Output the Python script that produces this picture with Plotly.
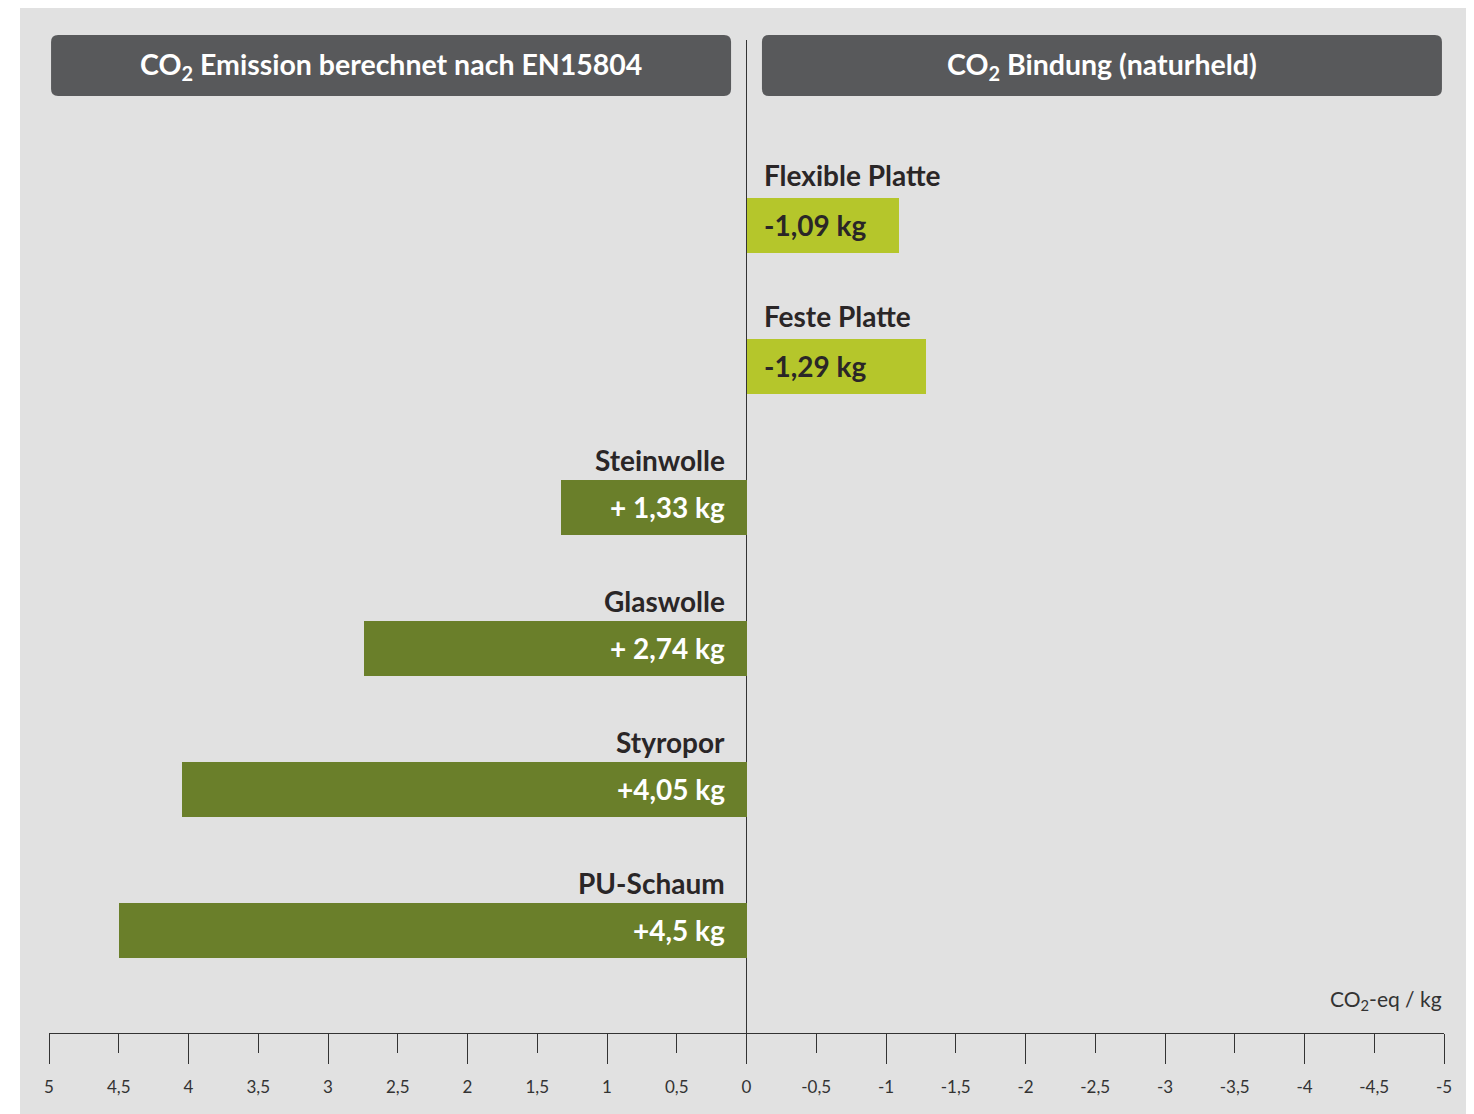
import plotly.graph_objects as go

categories = ["Flexible Platte", "Feste Platte", "Steinwolle", "Glaswolle", "Styropor", "PU-Schaum"]
values = [-1.09, -1.29, 1.33, 2.74, 4.05, 4.5]
value_labels = ["-1,09 kg", "-1,29 kg", "+ 1,33 kg", "+ 2,74 kg", "+4,05 kg", "+4,5 kg"]
tick_values = [5, 4.5, 4, 3.5, 3, 2.5, 2, 1.5, 1, 0.5, 0, -0.5, -1, -1.5, -2, -2.5, -3, -3.5, -4, -4.5, -5]
tick_labels = ["5", "4,5", "4", "3,5", "3", "2,5", "2", "1,5", "1", "0,5", "0",
               "-0,5", "-1", "-1,5", "-2", "-2,5", "-3", "-3,5", "-4", "-4,5", "-5"]
major_ticks = [5, 4, 3, 2, 1, 0, -1, -2, -3, -4, -5]
headers = ["CO<sub>2</sub> Emission berechnet nach EN15804", "CO<sub>2</sub> Bindung (naturheld)"]
unit_label = "CO<sub>2</sub>-eq / kg"

DARK = "#6a7f2a"
LIME = "#b5c62b"
TXT = "#2a2627"
FONT = "Lato"

colors = [LIME if v < 0 else DARK for v in values]

fig = go.Figure()
fig.add_trace(go.Bar(
    x=values, y=categories, orientation="h", width=0.39,
    marker=dict(color=colors, line=dict(width=0)),
    hoverinfo="skip", showlegend=False, xaxis="x", yaxis="y",
))
# invisible trace for overlay axis with long integer ticks
fig.add_trace(go.Scatter(x=[5, -5], y=[categories[0], categories[0]], mode="markers",
                         marker=dict(opacity=0), xaxis="x2", yaxis="y",
                         hoverinfo="skip", showlegend=False))

annotations = []
for cat, v, lab in zip(categories, values, value_labels):
    if v < 0:
        annotations.append(dict(x=0, y=cat, xref="x", yref="y", text=f"<b>{cat}</b>",
                                xanchor="left", yanchor="middle", xshift=15, yshift=50,
                                showarrow=False, font=dict(family=FONT, size=28, color=TXT)))
        annotations.append(dict(x=0, y=cat, xref="x", yref="y", text=f"<b>{lab}</b>",
                                xanchor="left", yanchor="middle", xshift=15, yshift=0,
                                showarrow=False, font=dict(family=FONT, size=28, color=TXT)))
    else:
        annotations.append(dict(x=0, y=cat, xref="x", yref="y", text=f"<b>{cat}</b>",
                                xanchor="right", yanchor="middle", xshift=-20, yshift=47,
                                showarrow=False, font=dict(family=FONT, size=28, color=TXT)))
        annotations.append(dict(x=0, y=cat, xref="x", yref="y", text=f"<b>{lab}</b>",
                                xanchor="right", yanchor="middle", xshift=-20, yshift=0,
                                showarrow=False, font=dict(family=FONT, size=28, color="white")))

header_x = [0.2452, 0.7548]
header_y = 0.9743
W, H, r = 680, 61, 7
path = (f"M {-W/2+r},{-H/2} L {W/2-r},{-H/2} Q {W/2},{-H/2} {W/2},{-H/2+r} "
        f"L {W/2},{H/2-r} Q {W/2},{H/2} {W/2-r},{H/2} L {-W/2+r},{H/2} "
        f"Q {-W/2},{H/2} {-W/2},{H/2-r} L {-W/2},{-H/2+r} Q {-W/2},{-H/2} {-W/2+r},{-H/2} Z")
shapes = []
for hx, htxt in zip(header_x, headers):
    shapes.append(dict(type="path", xref="paper", yref="paper", xsizemode="pixel", ysizemode="pixel",
                       xanchor=hx, yanchor=header_y, path=path,
                       fillcolor="#58595b", line=dict(width=0), layer="above"))
    annotations.append(dict(x=hx, y=header_y, xref="paper", yref="paper", text=f"<b>{htxt}</b>",
                            xanchor="center", yanchor="middle", showarrow=False,
                            font=dict(family=FONT, size=28.5, color="white")))

# white page margin left of the grey panel
shapes.append(dict(type="rect", xref="paper", yref="paper", x0=-0.1, x1=-0.0208, y0=-0.2, y1=1.2,
                   fillcolor="white", line=dict(width=0), layer="below"))

annotations.append(dict(x=1, y=0.033, xref="paper", yref="paper", text=unit_label,
                        xanchor="right", yanchor="middle", showarrow=False,
                        font=dict(family=FONT, size=21, color="#333333")))

fig.update_layout(
    width=1474, height=1114,
    margin=dict(l=41, r=38, t=32, b=89),
    paper_bgcolor="#e1e1e1", plot_bgcolor="rgba(0,0,0,0)",
    bargap=0,
    xaxis=dict(range=[5, -5], tickvals=tick_values, ticktext=tick_labels,
               ticks="outside", ticklen=19, tickwidth=1.3, tickcolor="#333",
               showline=True, linecolor="#333", linewidth=1.3,
               showgrid=False, zeroline=True, zerolinecolor="#333", zerolinewidth=1.3,
               tickfont=dict(family=FONT, size=17, color="#333"), ticklabelstandoff=19,
               fixedrange=True),
    xaxis2=dict(range=[5, -5], overlaying="x", anchor="y", side="bottom",
                tickvals=major_ticks, ticks="outside", ticklen=30, tickwidth=1.3, tickcolor="#333",
                showticklabels=False, showline=False, showgrid=False, zeroline=False),
    yaxis=dict(type="category", categoryorder="array", categoryarray=categories,
               range=[5.73, -1.312], showticklabels=False, showgrid=False, zeroline=False,
               showline=False, ticks=""),
    annotations=annotations, shapes=shapes,
    font=dict(family=FONT),
)

fig.write_html("out.html")
